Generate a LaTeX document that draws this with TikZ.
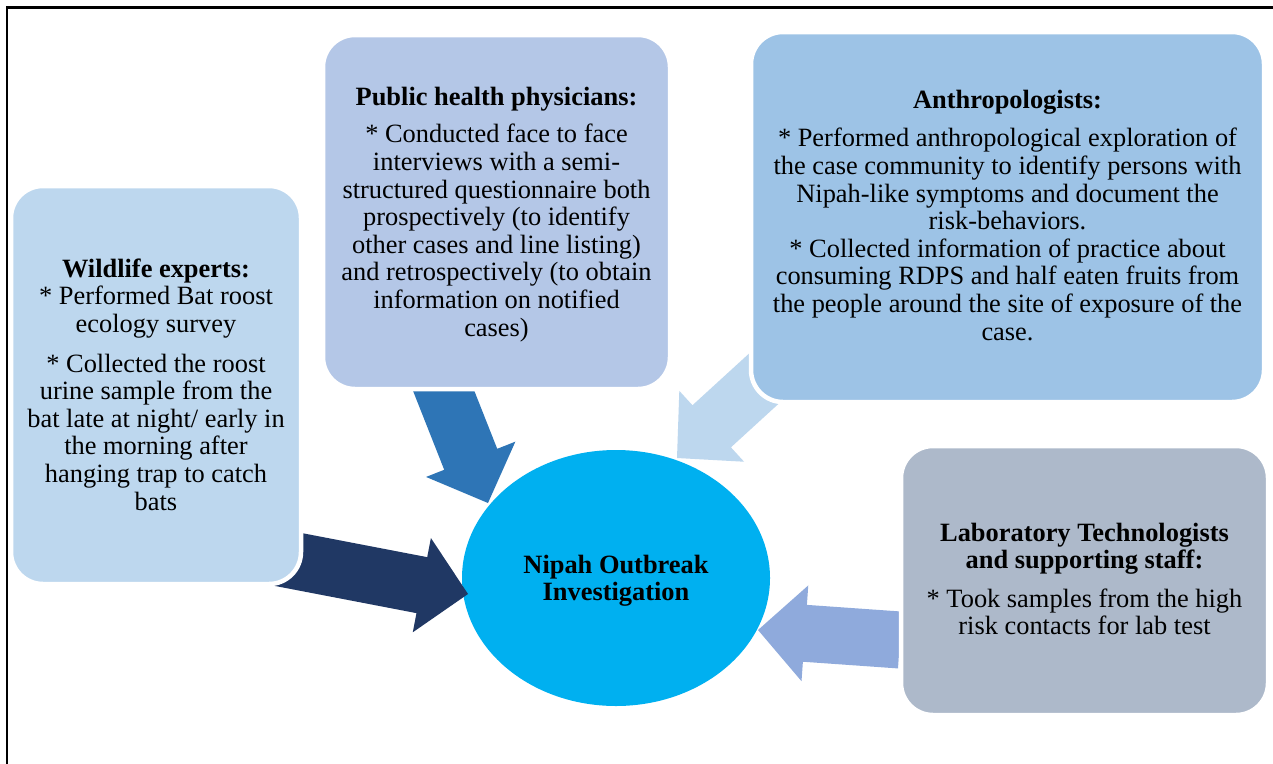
\documentclass[tikz,border=0pt]{standalone}
\usepackage{fontspec}
\setmainfont{Liberation Serif}
\usetikzlibrary{calc,shapes.geometric}
\definecolor{wildfill}{HTML}{BDD7EE}
\definecolor{phfill}{HTML}{B4C7E7}
\definecolor{anthfill}{HTML}{9DC3E6}
\definecolor{labfill}{HTML}{ADB9CA}
\definecolor{nipahfill}{HTML}{00B0F0}
\definecolor{navyarrow}{HTML}{203864}
\definecolor{midarrow}{HTML}{2E75B6}
\definecolor{lightarrow}{HTML}{BDD7EE}
\definecolor{labarrow}{HTML}{8FAADC}
% block arrow: #1 colour, #2 tail coordinate, #3 tip coordinate
\newcommand{\blockarrow}[3]{%
  \path ($(#3)!47pt!(#2)$) coordinate (#3-h);
  \fill[#1] ($(#2)!28.5pt!90:(#3)$) -- ($(#3-h)!28.5pt!90:(#3)$)
    -- ($(#3-h)!48pt!90:(#3)$) -- (#3) -- ($(#3-h)!48pt!-90:(#3)$)
    -- ($(#3-h)!28.5pt!-90:(#3)$) -- ($(#2)!28.5pt!-90:(#3)$) -- cycle;}
\begin{document}
\begin{tikzpicture}[x=1pt,y=-1pt,
  roundbox/.style={rectangle, rounded corners=32pt, draw=white, line width=4.5pt, inner sep=0pt},
  boxtext/.style={align=center, inner sep=0pt, anchor=north, font=\fontsize{26.4}{27.6}\selectfont}]
\useasboundingbox (0,0) rectangle (1273,763);
\clip (0,0) rectangle (1273,763);
\fill[white] (0,0) rectangle (1273,763);
\draw[line width=2.7pt] (7,7.7) rectangle (1300,800);

% centre ellipse
\node[ellipse, fill=nipahfill, minimum width=308pt, minimum height=256pt, inner sep=0pt] (nipah) at (616,578) {};

% arrow end points
\coordinate (navyT) at (278,557.5);   \coordinate (navyP) at (468,594);
\coordinate (phT)   at (437,374);     \coordinate (phP)   at (488,503);
\coordinate (anT)   at (781.8,362.2); \coordinate (anP)   at (677,458);
\coordinate (labT)  at (900,640);     \coordinate (labP)  at (758,630);

\blockarrow{navyarrow}{navyT}{navyP}
\blockarrow{midarrow}{phT}{phP}
\blockarrow{lightarrow}{anT}{anP}
\blockarrow{labarrow}{labT}{labP}

% boxes
\node[roundbox, fill=wildfill, minimum width=290pt, minimum height=398pt] (wild) at (156,385) {};
\node[roundbox, fill=phfill, minimum width=347pt, minimum height=354pt] (ph) at (496.5,212) {};
\node[roundbox, fill=anthfill, minimum width=513pt, minimum height=370pt] (anth) at (1007.5,217) {};
\node[roundbox, fill=labfill, minimum width=367pt, minimum height=269pt] (lab) at (1084.5,580.5) {};

% texts
\node[boxtext] (wildtxt) at (156,258) {\rule{0pt}{19pt}\textbf{Wildlife experts:}\\ * Performed Bat roost\\ ecology survey\\[12pt] * Collected the roost\\ urine sample from the\\ bat late at night/ early in\\ the morning after\\ hanging trap to catch\\ bats};
\node[boxtext] (phtxt) at (496.5,86) {\rule{0pt}{19pt}\textbf{Public health physicians:}\\[10pt] * Conducted face to face\\ interviews with a semi-\\ structured questionnaire both\\ prospectively (to identify\\ other cases and line listing)\\ and retrospectively (to obtain\\ information on notified\\ cases)};
\node[boxtext] (anthtxt) at (1007.5,89) {\rule{0pt}{19pt}\textbf{Anthropologists:}\\[11pt] * Performed anthropological exploration of\\ the case community to identify persons with\\ Nipah-like symptoms and document the\\ risk-behaviors.\\ * Collected information of practice about\\ consuming RDPS and half eaten fruits from\\ the people around the site of exposure of the\\ case.};
\node[boxtext] (labtxt) at (1084.5,522.7) {\rule{0pt}{19pt}\textbf{Laboratory Technologists}\\[-1pt] \textbf{and supporting staff:}\\[11pt] * Took samples from the high\\ risk contacts for lab test};
\node[boxtext] (nipahtxt) at (616,554) {\rule{0pt}{19pt}\textbf{Nipah Outbreak}\\[-0.6pt] \textbf{Investigation}};
\end{tikzpicture}
\end{document}
